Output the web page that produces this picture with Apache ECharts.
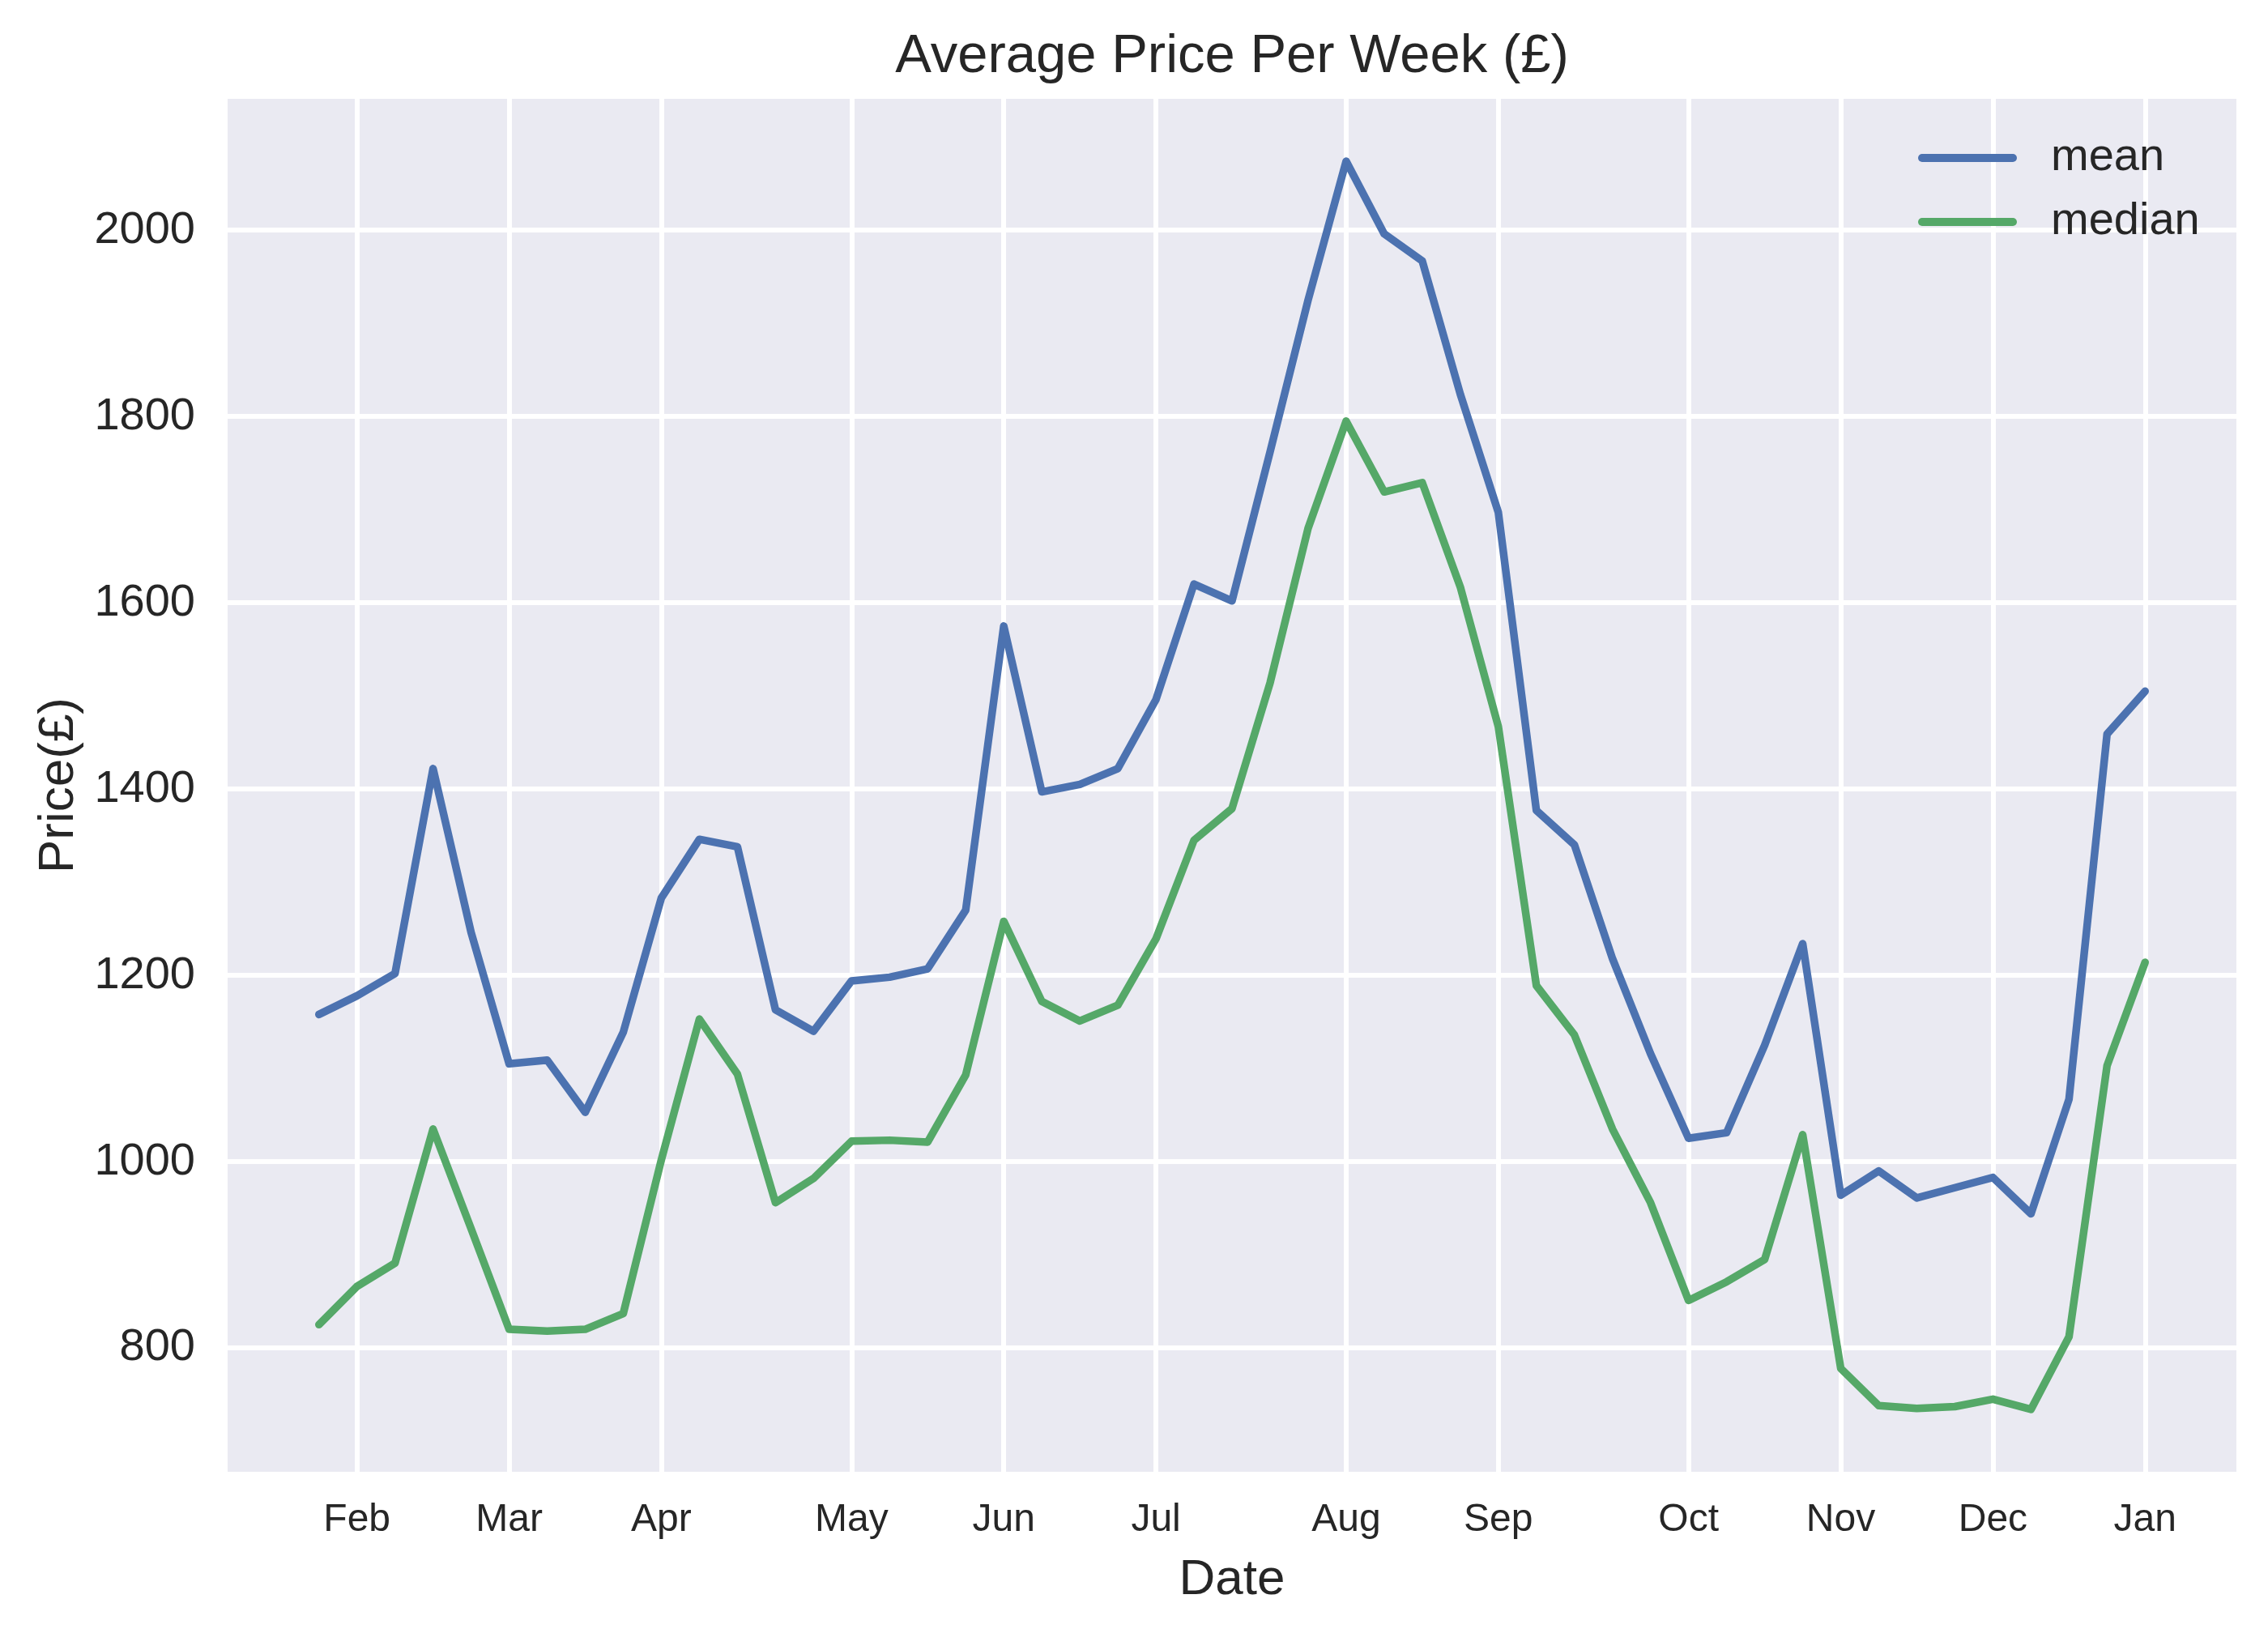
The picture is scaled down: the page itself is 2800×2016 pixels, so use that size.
<!DOCTYPE html>
<html lang="en">
<head>
  <meta charset="UTF-8">
  <title>Average Price Per Week</title>
  <script src="https://cdn.jsdelivr.net/npm/echarts@6/dist/echarts.min.js"></script>
  <style>
    html, body { margin: 0; padding: 0; background: #fff; }
  </style>
</head>
<body>
<div id="main" style="width: 2800px;height:2016px;"></div>
<script type="text/javascript">
  // weekly values, one per week (index 0 = last week of Jan)
  var meanPrice = [1158, 1178, 1202, 1422, 1246, 1105, 1109, 1053, 1139, 1283,
                   1346, 1338, 1163, 1140, 1194, 1198, 1207, 1270, 1575, 1397,
                   1405, 1422, 1496, 1620, 1602, 1762, 1925, 2074, 1996, 1967,
                   1824, 1697, 1377, 1340, 1218, 1116, 1025, 1031, 1125, 1234,
                   964, 990, 961, 972, 983, 944, 1067, 1459, 1505];
  var medianPrice = [825, 866, 891, 1035, 928, 820, 818, 820, 837, 1002,
                     1153, 1094, 956, 982, 1022, 1023, 1021, 1093, 1258, 1172,
                     1151, 1168, 1239, 1345, 1379, 1514, 1680, 1795, 1719, 1729,
                     1617, 1467, 1189, 1136, 1035, 956, 851, 871, 895, 1029,
                     778, 738, 735, 737, 745, 734, 812, 1103, 1214];
  // week index where each month starts, and its label
  var monthWeek = [1, 5, 9, 14, 18, 22, 27, 31, 36, 40, 44, 48];
  var monthNames = ['Feb', 'Mar', 'Apr', 'May', 'Jun', 'Jul', 'Aug', 'Sep', 'Oct', 'Nov', 'Dec', 'Jan'];

  var FONT = "'Liberation Sans', Arial, sans-serif";
  var TEXT = '#262626';

  function toPairs(arr) {
    return arr.map(function (v, i) { return [i, v]; });
  }

  var myChart = echarts.init(document.getElementById('main'));

  myChart.setOption({
    animation: false,
    backgroundColor: '#ffffff',
    textStyle: { fontFamily: FONT, color: TEXT },
    title: {
      text: 'Average Price Per Week (£)',
      left: 1521,
      top: 37,
      padding: 0,
      textAlign: 'center',
      textStyle: { fontSize: 67, fontWeight: 'normal', color: TEXT, fontFamily: FONT }
    },
    legend: {
      orient: 'vertical',
      left: 2368,
      top: 167,
      padding: 0,
      itemWidth: 122,
      itemHeight: 10,
      itemGap: 23,
      icon: 'path://M5,0 L117,0 A5,5 0 0 1 117,10 L5,10 A5,5 0 0 1 5,0 Z',
      textStyle: { fontSize: 56, color: TEXT, fontFamily: FONT, lineHeight: 56, padding: [0, 0, 0, 37] },
      data: ['mean', 'median']
    },
    grid: {
      left: 281,
      top: 122,
      right: 39,
      bottom: 199,
      show: true,
      backgroundColor: '#EAEAF2',
      borderWidth: 0
    },
    xAxis: {
      type: 'value',
      min: -2.4,
      max: 50.4,
      interval: 0.2,
      name: 'Date',
      nameLocation: 'middle',
      nameGap: 103,
      nameTextStyle: { fontSize: 62, color: TEXT, fontFamily: FONT },
      axisLine: { show: false },
      axisTick: { show: false },
      splitLine: { show: false },
      axisLabel: {
        margin: 36,
        fontSize: 48,
        color: TEXT,
        fontFamily: FONT,
        formatter: function (v) {
          var r = Math.round(v * 10) / 10;
          var k = monthWeek.indexOf(r);
          return k >= 0 ? monthNames[k] : '';
        }
      }
    },
    yAxis: {
      type: 'value',
      min: 667,
      max: 2141,
      splitNumber: 7,
      name: 'Price(£)',
      nameLocation: 'middle',
      nameRotate: 90,
      nameGap: 177,
      nameTextStyle: { fontSize: 62, color: TEXT, fontFamily: FONT },
      axisLine: { show: false },
      axisTick: { show: false },
      axisLabel: {
        margin: 40,
        fontSize: 56,
        color: TEXT,
        fontFamily: FONT,
        showMinLabel: false,
        showMaxLabel: false,
        formatter: function (v) {
          return v % 200 === 0 ? String(v) : '';
        }
      },
      splitLine: {
        show: true,
        showMinLine: false,
        showMaxLine: false,
        lineStyle: { color: '#ffffff', width: 6 }
      }
    },
    series: [
      {
        name: 'mean',
        type: 'line',
        data: toPairs(meanPrice),
        showSymbol: false,
        symbol: 'none',
        color: '#4C72B0',
        lineStyle: { width: 9.5, color: '#4C72B0', cap: 'round', join: 'round' },
        z: 3,
        markLine: {
          silent: true,
          z: 1,
          symbol: ['none', 'none'],
          label: { show: false },
          lineStyle: { color: '#ffffff', width: 6, type: 'solid' },
          emphasis: { disabled: true },
          data: monthWeek.map(function (w) { return { xAxis: w }; })
        }
      },
      {
        name: 'median',
        type: 'line',
        data: toPairs(medianPrice),
        showSymbol: false,
        symbol: 'none',
        color: '#55A868',
        lineStyle: { width: 9.5, color: '#55A868', cap: 'round', join: 'round' },
        z: 3
      }
    ]
  });
</script>
</body>
</html>
